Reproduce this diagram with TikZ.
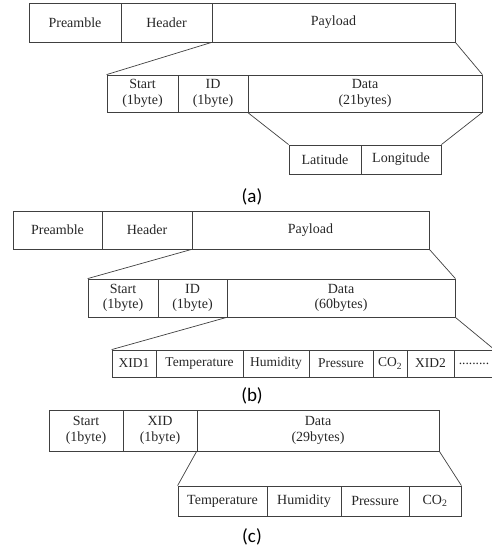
\documentclass[tikz,border=0pt]{standalone}
\usepackage{fontspec}
\setmainfont{Liberation Serif}
\newfontfamily\capfont{Carlito}
\begin{document}
\begin{tikzpicture}[x=1pt,y=-1pt,
  cell/.style={draw=black!75, line width=0.8pt, inner sep=0pt, align=center,
    font=\fontsize{14}{15.5}\selectfont, text=black!85},
  smallcell/.style={cell, font=\fontsize{13.5}{15}\selectfont},
  link/.style={draw=black!75, line width=0.7pt},
  caption/.style={font=\capfont\fontsize{19}{22}\selectfont, inner sep=0pt}]
\useasboundingbox (0,0) rectangle (492,551);
\clip (0,0) rectangle (492,551);
% ---------- (a)
\node[cell, minimum width=92pt, minimum height=39pt] (apre) at (75,22.5) {Preamble};
\node[cell, minimum width=91pt, minimum height=39pt] (ahdr) at (166.5,22.5) {Header};
\node[cell, minimum width=243pt, minimum height=39pt] (apay) at (333.5,22.5) {Payload};
\node[cell, minimum width=71pt, minimum height=37pt] (astart) at (142.5,93.5) {Start\\(1byte)};
\node[cell, minimum width=70pt, minimum height=37pt] (aid) at (213,93.5) {ID\\(1byte)};
\node[cell, minimum width=234pt, minimum height=37pt] (adata) at (365,93.5) {Data\\(21bytes)};
\node[cell, minimum width=72pt, minimum height=29pt] (alat) at (325,159.5) {Latitude};
\node[cell, minimum width=80pt, minimum height=29pt] (alon) at (401,159.5) {Longitude};
\draw[link] (apay.south west) -- (astart.north west);
\draw[link] (apay.south east) -- (adata.north east);
\draw[link] (adata.south west) -- (alat.north west);
\draw[link] (adata.south east) -- (alon.north east);
\node[caption] (capa) at (252,197) {(a)};
% ---------- (b)
\node[cell, minimum width=89pt, minimum height=38pt] (bpre) at (57.5,230) {Preamble};
\node[cell, minimum width=90pt, minimum height=38pt] (bhdr) at (147,230) {Header};
\node[cell, minimum width=237pt, minimum height=38pt] (bpay) at (310.5,230) {Payload};
\node[cell, minimum width=70pt, minimum height=38pt] (bstart) at (123,298) {Start\\(1byte)};
\node[cell, minimum width=69pt, minimum height=38pt] (bid) at (192.5,298) {ID\\(1byte)};
\node[cell, minimum width=228pt, minimum height=38pt] (bdata) at (341,298) {Data\\(60bytes)};
\node[smallcell, minimum width=44pt, minimum height=27pt] (bx1) at (134,363.5) {XID1};
\node[smallcell, minimum width=87pt, minimum height=27pt] (btemp) at (199.5,363.5) {Temperature};
\node[smallcell, minimum width=66pt, minimum height=27pt] (bhum) at (276,363.5) {Humidity};
\node[smallcell, minimum width=64pt, minimum height=27pt] (bpres) at (341,363.5) {Pressure};
\node[smallcell, minimum width=34pt, minimum height=27pt] (bco) at (390,363.5) {CO\textsubscript{2}};
\node[smallcell, minimum width=47pt, minimum height=27pt] (bx2) at (430.5,363.5) {XID2};
\node[smallcell, minimum width=40pt, minimum height=27pt] (bdots) at (474,363.5) {.........};
\draw[link] (bpay.south west) -- (bstart.north west);
\draw[link] (bpay.south east) -- (bdata.north east);
\draw[link] (bdata.south west) -- (bx1.north west);
\draw[link] (bdata.south east) -- (bdots.north east);
\node[caption] (capb) at (252,396) {(b)};
% ---------- (c)
\node[cell, minimum width=74pt, minimum height=41pt] (cstart) at (86,430.5) {Start\\(1byte)};
\node[cell, minimum width=74pt, minimum height=41pt] (cxid) at (160,430.5) {XID\\(1byte)};
\node[cell, minimum width=242pt, minimum height=41pt] (cdata) at (318,430.5) {Data\\(29bytes)};
\node[cell, minimum width=89pt, minimum height=30pt] (ctemp) at (222.5,501) {Temperature};
\node[cell, minimum width=74pt, minimum height=30pt] (chum) at (304,501) {Humidity};
\node[cell, minimum width=68pt, minimum height=30pt] (cpres) at (375,501) {Pressure};
\node[cell, minimum width=52pt, minimum height=30pt] (cco) at (435,501) {CO\textsubscript{2}};
\draw[link] (cdata.south west) -- (ctemp.north west);
\draw[link] (cdata.south east) -- (cco.north east);
\node[caption] (capc) at (252,537) {(c)};
\end{tikzpicture}
\end{document}
